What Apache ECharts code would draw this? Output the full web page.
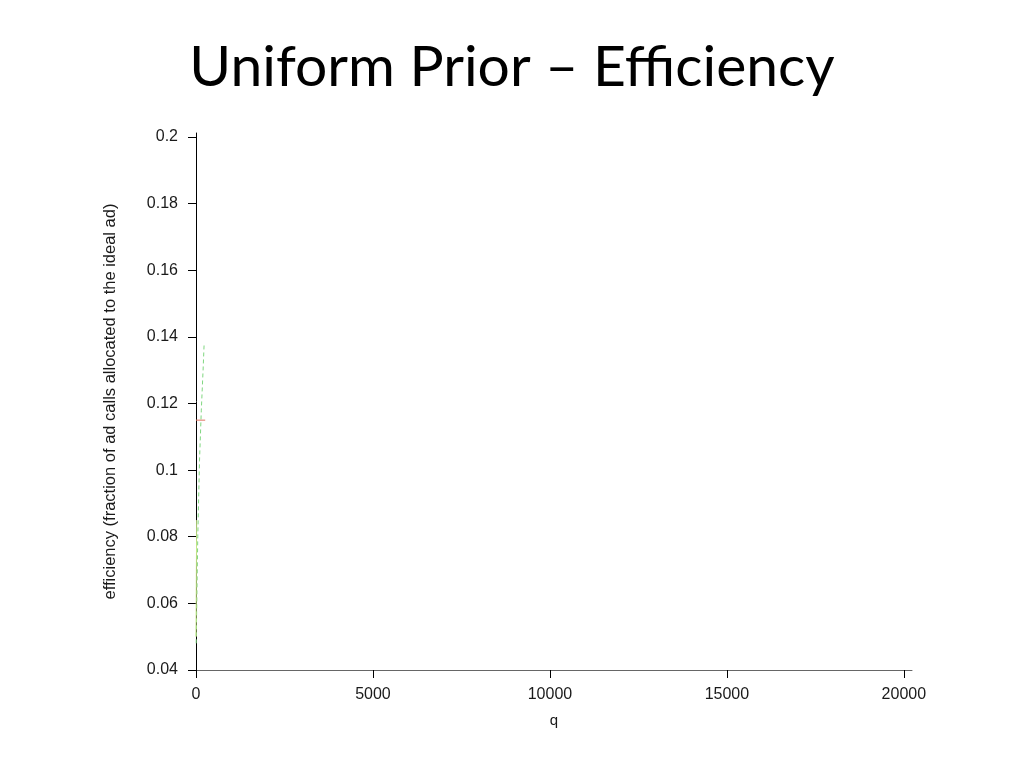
<!DOCTYPE html>
<html><head><meta charset="utf-8">
<script src="https://cdn.jsdelivr.net/npm/echarts@6/dist/echarts.min.js"></script>
<style>html,body{margin:0;padding:0;background:#fff}#c{width:1024px;height:768px}</style>
</head><body><div id="c"></div>
<script>
const titleText = 'Uniform Prior – Efficiency';
const xTicks = [0, 5000, 10000, 15000, 20000];
const yTicks = [0.04, 0.06, 0.08, 0.1, 0.12, 0.14, 0.16, 0.18, 0.2];
// dashed light-green series
const greenQ = [5, 50, 100, 150, 200, 230];
const greenEff = [0.048, 0.08, 0.103, 0.118, 0.13, 0.138];
// short solid yellow-green series near the axis
const lightQ = [0, 10, 20];
const lightEff = [0.05, 0.07, 0.085];
// red horizontal segment
const redQ = [0, 260];
const redEff = [0.115, 0.115];

const zip = (a, b) => a.map((v, i) => [v, b[i]]);
const font = '"Liberation Sans", Arial, sans-serif';
const chart = echarts.init(document.getElementById('c'));
chart.setOption({
  animation: false,
  title: { text: titleText, left: 'center', top: 34,
    textStyle: { fontFamily: 'Lato, "Open Sans", sans-serif', fontSize: 57, fontWeight: 'normal', color: '#000' } },
  grid: { left: 196, right: 112, top: 133, bottom: 98 },
  xAxis: {
    type: 'value', min: 0, max: 20230,
    name: 'q', nameLocation: 'middle', nameGap: 43,
    nameTextStyle: { fontFamily: font, fontSize: 15, color: '#1a1a1a' },
    axisLine: { show: true, lineStyle: { color: '#666', width: 1 } },
    axisTick: { show: true, length: 8, customValues: xTicks, lineStyle: { color: '#000' } },
    axisLabel: { customValues: xTicks, fontFamily: font, fontSize: 16, color: '#1a1a1a', margin: 17,
      formatter: v => String(v) },
    splitLine: { show: false }
  },
  yAxis: {
    type: 'value', min: 0.04, max: 0.2012,
    name: 'efficiency (fraction of ad calls allocated to the ideal ad)',
    nameLocation: 'middle', nameGap: 77, nameRotate: 90,
    nameTextStyle: { fontFamily: font, fontSize: 16.5, color: '#1a1a1a' },
    axisLine: { show: true, lineStyle: { color: '#000', width: 1 } },
    axisTick: { show: true, length: 8, customValues: yTicks, lineStyle: { color: '#000' } },
    axisLabel: { customValues: yTicks, fontFamily: font, fontSize: 16, color: '#1a1a1a', margin: 18,
      formatter: v => String(Math.round(v * 100) / 100) },
    splitLine: { show: false }
  },
  series: [
    { type: 'line', data: zip(greenQ, greenEff), symbol: 'none',
      lineStyle: { color: '#7fd67f', width: 1, type: [4, 3] } },
    { type: 'line', data: zip(lightQ, lightEff), symbol: 'none',
      lineStyle: { color: '#c8e88a', width: 1 } },
    { type: 'line', data: zip(redQ, redEff), symbol: 'none',
      lineStyle: { color: '#e07060', width: 1 } }
  ]
});
</script></body></html>
